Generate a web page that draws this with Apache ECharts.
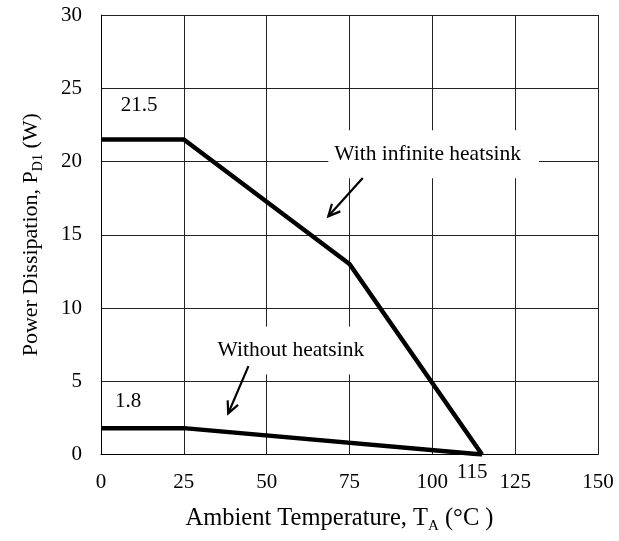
<!DOCTYPE html>
<html>
<head>
<meta charset="utf-8">
<script src="https://cdn.jsdelivr.net/npm/echarts@6/dist/echarts.min.js"></script>
<style>html,body{margin:0;padding:0;background:#fff}#c{width:619px;height:541px}</style>
</head>
<body>
<div id="c"></div>
<script>
// Data
const withHeatsinkX = [0, 25, 75, 115];
const withHeatsinkY = [21.5, 21.5, 13, 0];
const withoutHeatsinkX = [0, 25, 115];
const withoutHeatsinkY = [1.8, 1.8, 0];
const xTicks = [0, 25, 50, 75, 100, 125, 150];
const yTicks = [0, 5, 10, 15, 20, 25, 30];
// annotations: [x, y, text]
const boxedLabels = [[100.4, 20.5, 'With infinite heatsink'], [59.1, 7.1, 'Without heatsink']];
const plainLabels = [[11.5, 23.8, '21.5'], [8.2, 3.6, '1.8'], [112.0, -1.23, '115']];
// arrows: [fromX, fromY, toX, toY]
const arrows = [[79.0, 18.87, 68.6, 16.26], [44.5, 6.03, 38.4, 2.81]];

const FONT = 'Liberation Serif';
const chart = echarts.init(document.getElementById('c'), null, {renderer: 'canvas'});

function zip(xs, ys) { return xs.map((x, i) => [x, ys[i]]); }

const option = {
  backgroundColor: '#fff',
  animation: false,
  grid: {left: 101, right: 21, top: 15, bottom: 86.5, containLabel: false},
  xAxis: {
    type: 'value', min: xTicks[0], max: xTicks[xTicks.length - 1], interval: xTicks[1] - xTicks[0],
    axisLine: {show: true, lineStyle: {color: '#000', width: 1}},
    axisTick: {show: false},
    splitLine: {show: true, lineStyle: {color: '#222', width: 1}},
    axisLabel: {color: '#000', fontFamily: FONT, fontSize: 21, margin: 17},
    name: 'Ambient Temperature, T{sub|A} (°C )',
    nameLocation: 'middle', nameGap: 49,
    nameTextStyle: {
      color: '#000', fontFamily: FONT, fontSize: 24.5, padding: [0, 20, 0, 0],
      rich: {sub: {fontFamily: FONT, fontSize: 15, color: '#000', padding: [15, 0, 0, 0]}}
    }
  },
  yAxis: {
    type: 'value', min: yTicks[0], max: yTicks[yTicks.length - 1], interval: yTicks[1] - yTicks[0],
    axisLine: {show: true, lineStyle: {color: '#000', width: 1}},
    axisTick: {show: false},
    splitLine: {show: true, lineStyle: {color: '#222', width: 1}},
    axisLabel: {color: '#000', fontFamily: FONT, fontSize: 21, margin: 19},
    name: 'Power Dissipation, P{sub|D1} (W)',
    nameLocation: 'middle', nameGap: 56, nameRotate: 90,
    nameTextStyle: {
      color: '#000', fontFamily: FONT, fontSize: 22,
      rich: {sub: {fontFamily: FONT, fontSize: 14, color: '#000', padding: [14, 0, 0, 0]}}
    }
  },
  series: [
    {
      type: 'line', data: zip(withHeatsinkX, withHeatsinkY), symbol: 'none',
      lineStyle: {color: '#000', width: 4.5}, z: 5
    },
    {
      type: 'line', data: zip(withoutHeatsinkX, withoutHeatsinkY), symbol: 'none',
      lineStyle: {color: '#000', width: 4.5}, z: 5
    },
    {
      type: 'scatter', data: boxedLabels, symbolSize: 0, z: 3, silent: true, clip: false,
      itemStyle: {opacity: 1},
      label: {
        show: true, position: 'inside', formatter: p => p.data[2],
        color: '#000', fontFamily: FONT, fontSize: 21.5,
        backgroundColor: '#fff', padding: [13, 18, 13, 6]
      }
    },
    {
      type: 'scatter', data: plainLabels, symbolSize: 0, z: 3, silent: true, clip: false,
      itemStyle: {opacity: 1},
      label: {
        show: true, position: 'inside', formatter: p => p.data[2],
        color: '#000', fontFamily: FONT, fontSize: 21
      }
    },
    {
      type: 'custom', data: arrows, z: 6, silent: true, clip: false,
      renderItem: function (params, api) {
        const p0 = api.coord([api.value(0), api.value(1)]);
        const p1 = api.coord([api.value(2), api.value(3)]);
        const ang = Math.atan2(p1[1] - p0[1], p1[0] - p0[0]);
        const L = 13, spread = 0.45;
        const a = [p1[0] - L * Math.cos(ang - spread), p1[1] - L * Math.sin(ang - spread)];
        const b = [p1[0] - L * Math.cos(ang + spread), p1[1] - L * Math.sin(ang + spread)];
        return {
          type: 'group',
          children: [
            {type: 'line', shape: {x1: p0[0], y1: p0[1], x2: p1[0], y2: p1[1]}, style: {stroke: '#000', lineWidth: 2.2}},
            {type: 'polyline', shape: {points: [a, p1, b]}, style: {stroke: '#000', lineWidth: 2.2, fill: null}}
          ]
        };
      }
    }
  ]
};
chart.setOption(option);
</script>
</body>
</html>
